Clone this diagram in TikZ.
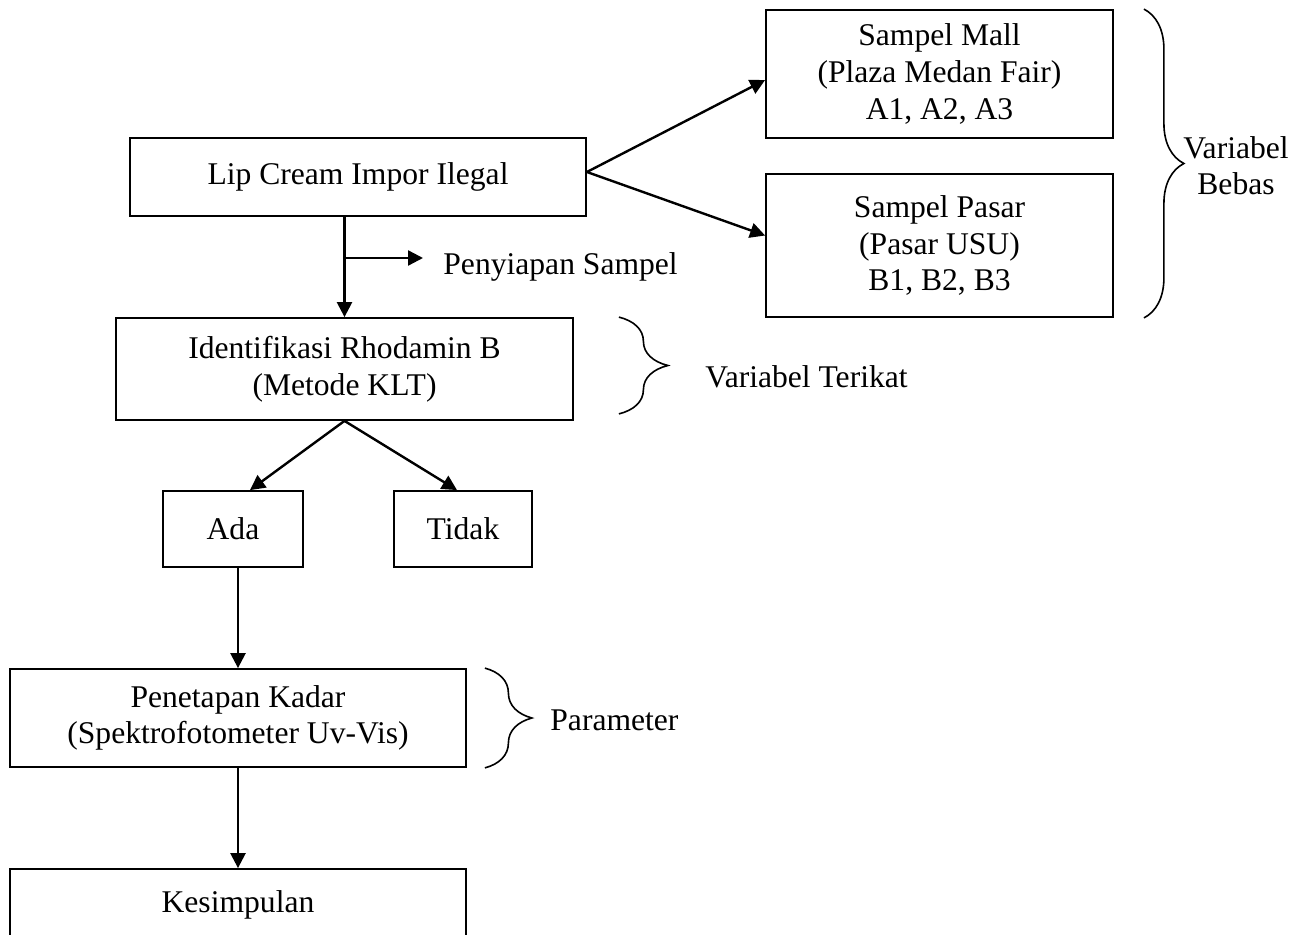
\documentclass[tikz,border=0pt]{standalone}
\usepackage{fontspec}
\setmainfont{Liberation Serif}
\usetikzlibrary{arrows.meta,decorations.pathreplacing}
\begin{document}
\begin{tikzpicture}[
    x=0.5pt, y=-0.5pt,
    font=\fontsize{15.8}{18.3}\selectfont,
    box/.style={rectangle, draw, line width=0.9pt, align=center, inner sep=0pt},
    arr/.style={-{Triangle[length=7.5pt,width=7.5pt]}, line width=1.2pt},
    brc/.style={decorate, decoration={brace, amplitude=#1}, line width=0.8pt},
    lbl/.style={anchor=west, inner sep=0pt}
]
    \useasboundingbox (0,0) rectangle (1310,935);
    \clip (0,0) rectangle (1310,935);

    \node[box, minimum width=228pt, minimum height=39pt] (lip) at (358,177) {Lip Cream Impor Ilegal};
    \node[box, minimum width=173.5pt, minimum height=64pt] (mall) at (939.5,74) {Sampel Mall\\(Plaza Medan Fair)\\A1, A2, A3};
    \node[box, minimum width=173.5pt, minimum height=71.5pt] (pasar) at (939.5,245.5) {Sampel Pasar\\(Pasar USU)\\B1, B2, B3};
    \node[box, minimum width=228.5pt, minimum height=51pt] (ident) at (344.5,369) {Identifikasi Rhodamin B\\(Metode KLT)};
    \node[box, minimum width=70pt, minimum height=38pt] (ada) at (233,529) {Ada};
    \node[box, minimum width=69pt, minimum height=38pt] (tidak) at (463,529) {Tidak};
    \node[box, minimum width=228pt, minimum height=49pt] (pen) at (238,718) {Penetapan Kadar\\(Spektrofotometer Uv-Vis)};
    \node[box, minimum width=228pt, minimum height=36pt] (kes) at (238,905) {Kesimpulan};

    \draw[arr] ([yshift=2.5pt]lip.east) -- ([yshift=-3pt]mall.west);
    \draw[arr] ([yshift=2.5pt]lip.east) -- ([yshift=5pt]pasar.west);
    \draw[arr] (lip.south -| ident.north) -- (ident.north);
    \coordinate (prep) at (423,258);
    \draw[arr] (prep -| ident.north) -- (prep);
    \node[lbl] (prepl) at (443,267) {Penyiapan Sampel};
    \draw[arr] (ident.south) -- ([xshift=8.5pt]ada.north);
    \draw[arr] (ident.south) -- ([xshift=-3pt]tidak.north);
    \draw[arr] (ada.south -| pen.north) -- (pen.north);
    \draw[arr] (pen.south) -- (kes.north);

    \draw[brc=20pt] ([xshift=15pt]mall.north east) -- ([xshift=15pt]pasar.south east);
    \node[align=center, inner sep=0pt, font=\fontsize{15.8}{18}\selectfont] (bebas) at (1236,166) {Variabel\\Bebas};
    \draw[brc=24.5pt] ([xshift=22.5pt]ident.north east) -- ([xshift=22.5pt, yshift=3.5pt]ident.south east);
    \node[lbl] (terikat) at (705,377) {Variabel Terikat};
    \draw[brc=23.5pt] ([xshift=9pt]pen.north east) -- ([xshift=9pt]pen.south east);
    \node[lbl] (param) at (550,720) {Parameter};
\end{tikzpicture}
\end{document}
